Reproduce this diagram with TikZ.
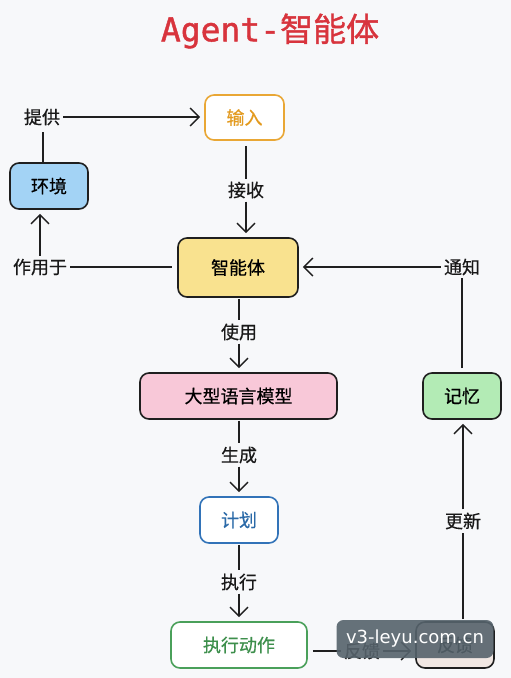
\documentclass[tikz,border=0pt]{standalone}
\usepackage{fontspec}
\setmainfont{Noto Sans CJK SC}
\newfontfamily\cjk[FakeBold=0.5]{Noto Sans CJK SC}
\newfontfamily\cjktitle[FakeBold=1.2]{Noto Sans CJK SC}
\newfontfamily\titlemono[FakeBold=1.2]{DejaVu Sans Mono}
\newfontfamily\wmfont{DejaVu Sans}
\usetikzlibrary{arrows.meta}
\definecolor{bgc}{HTML}{F7F8FA}
\definecolor{titlered}{HTML}{D8343D}
\definecolor{inborder}{HTML}{E9A735}
\definecolor{intext}{HTML}{E39A1E}
\definecolor{envfill}{HTML}{A3D3F5}
\definecolor{agentfill}{HTML}{F9E28F}
\definecolor{llmfill}{HTML}{F8C8D8}
\definecolor{memfill}{HTML}{B3EBB5}
\definecolor{planborder}{HTML}{3273B8}
\definecolor{plantext}{HTML}{2B6AA8}
\definecolor{actborder}{HTML}{4AA05A}
\definecolor{acttext}{HTML}{3D8F4C}
\definecolor{fbfill}{HTML}{F1E7E3}
\definecolor{wmgrey}{HTML}{56636C}
\tikzset{
  box/.style={draw=black!88, line width=1.6pt, rounded corners=9pt, align=center,
    font=\cjk\fontsize{18}{20}\selectfont, inner sep=0pt},
  lbl/.style={font=\cjk\fontsize{18}{20}\selectfont, inner sep=3pt, text=black!90},
  conn/.style={draw=black!88, line width=1.4pt},
  arr/.style={conn, -{Straight Barb[length=9pt,width=18pt,line width=1.4pt]}, shorten >=4pt},
}
\begin{document}
\begin{tikzpicture}[x=1pt,y=-1pt]
\fill[bgc] (0,0) rectangle (511,678);
\useasboundingbox (0,0) rectangle (511,678);

% title
\node (title) at (270,31) {\color{titlered}\titlemono\fontsize{33}{36}\selectfont Agent-\cjktitle 智能体};

% nodes
\node[box, draw=inborder, fill=white, text=intext, minimum width=79pt, minimum height=45pt] (in) at (244.5,117.5) {输入};
\node[box, fill=envfill, minimum width=78pt, minimum height=46pt] (env) at (49,186) {环境};
\node[box, fill=agentfill, minimum width=120pt, minimum height=59pt] (agent) at (238,267.5) {智能体};
\node[box, fill=llmfill, minimum width=197pt, minimum height=46pt] (llm) at (238.5,396) {大型语言模型};
\node[box, fill=memfill, minimum width=78pt, minimum height=46pt] (mem) at (462,396) {记忆};
\node[box, draw=planborder, fill=white, text=plantext, minimum width=78pt, minimum height=46pt] (plan) at (239,520) {计划};
\node[box, draw=actborder, fill=white, text=acttext, minimum width=136pt, minimum height=46pt] (act) at (239,645) {执行动作};
\node[box, fill=fbfill, minimum width=78pt, minimum height=46pt] (fb) at (455,645) {反馈};

% labels
\node[lbl] (lprov) at (42,117) {提供};
\node[lbl] (lrecv) at (246,190) {接收};
\node[lbl] (lact) at (40,267) {作用于};
\node[lbl] (lnote) at (462,267) {通知};
\node[lbl] (luse) at (239,332) {使用};
\node[lbl] (lgen) at (239,455) {生成};
\node[lbl] (lexec) at (239,582) {执行};
\node[lbl] (lupd) at (463,521) {更新};
\node[lbl] (lfb) at (362,651) {反馈};

% connectors
\draw[conn, shorten <=4pt] (lprov.south -| 43,0) -- (env.north -| 43,0);
\draw[arr] (lprov.east) -- (in.west |- lprov);
\draw[conn, shorten <=5pt] (in.south -| lrecv) -- (lrecv.north);
\draw[arr] (lrecv.south) -- (agent.north -| lrecv);
\draw[conn, shorten >=5pt] (lact.east) -- (agent.west |- lact);
\draw[arr] (lact.north) -- (env.south -| lact);
\draw[conn, shorten <=4pt] (mem.north -| lnote) -- (lnote.south);
\draw[arr] (lnote.west) -- (agent.east |- lnote);
\draw[conn, shorten <=1pt] (agent.south -| luse) -- (luse.north);
\draw[arr] (luse.south) -- (llm.north -| luse);
\draw[conn, shorten <=1pt] (llm.south -| lgen) -- (lgen.north);
\draw[arr] (lgen.south) -- (plan.north -| lgen);
\draw[conn, shorten <=1pt] (plan.south -| lexec) -- (lexec.north);
\draw[arr] (lexec.south) -- (act.north -| lexec);
\draw[conn, shorten <=2pt] (fb.north -| lupd) -- (lupd.south);
\draw[arr] (lupd.north) -- (mem.south -| lupd);
\draw[conn, shorten <=5pt] (act.east |- lfb) -- (lfb.west);
\draw[arr] (lfb.east) -- (fb.west |- lfb);

% watermark overlay
\node[fill=wmgrey, fill opacity=0.9, text opacity=1, text=white, rounded corners=7pt,
  minimum width=157pt, minimum height=38pt, inner sep=0pt,
  font=\wmfont\fontsize{18}{20}\selectfont] (wm) at (415,639) {v3-leyu.com.cn};
\end{tikzpicture}
\end{document}
